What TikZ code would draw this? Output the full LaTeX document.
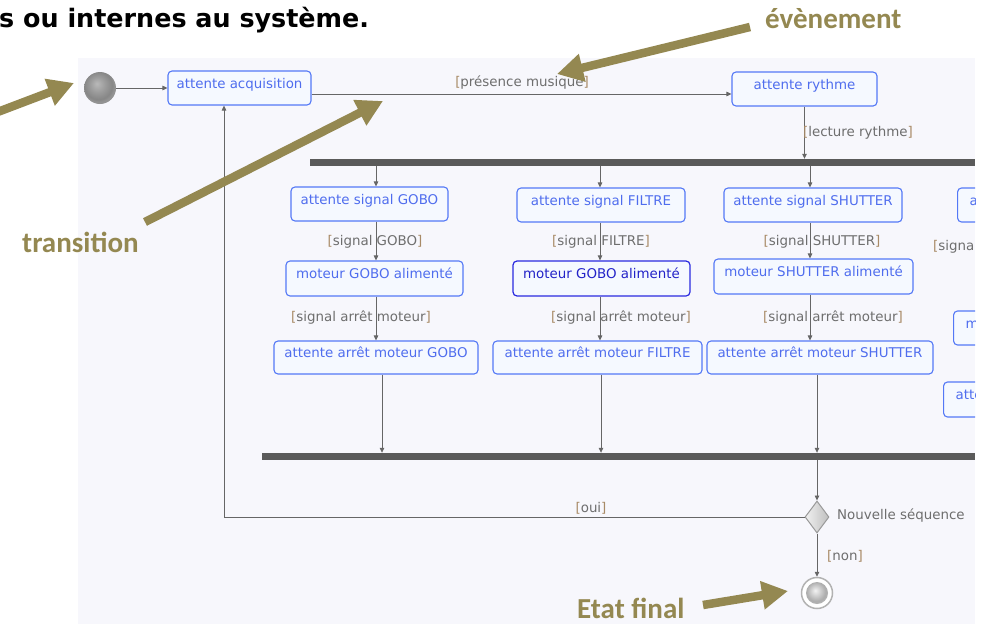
\documentclass[tikz,border=0pt]{standalone}
\usepackage{fontspec}
\setmainfont{DejaVu Sans}
\newfontfamily\notefont{Carlito}
\usetikzlibrary{arrows.meta,shapes.geometric,calc}

\definecolor{panel}{HTML}{F7F7FC}
\definecolor{boxfill}{HTML}{F5F9FF}
\definecolor{boxline}{HTML}{5478F6}
\definecolor{boxtext}{HTML}{4F6DEE}
\definecolor{selline}{HTML}{2A2AE0}
\definecolor{seltext}{HTML}{2323C8}
\definecolor{wire}{HTML}{666666}
\definecolor{barcol}{HTML}{5A5A5A}
\definecolor{lbltext}{HTML}{6E6E6E}
\definecolor{brk}{HTML}{A88A66}
\definecolor{olive}{HTML}{948851}

\newcommand\guard[1]{\textcolor{brk}{[}#1\textcolor{brk}{]}}

\pgfdeclareradialshading{startball}{\pgfpoint{-5bp}{7bp}}{%
  color(0bp)=(gray!55); color(12bp)=(gray!78); color(22bp)=(gray!95); color(25bp)=(gray!85); color(50bp)=(gray!85)}
\pgfdeclareradialshading{endball}{\pgfpoint{-4bp}{6bp}}{%
  color(0bp)=(gray!10); color(12bp)=(gray!40); color(22bp)=(gray!65); color(25bp)=(gray!60); color(50bp)=(gray!60)}

\tikzset{
  state/.style={draw=boxline, fill=boxfill, rounded corners=4pt, line width=1.1pt,
    minimum height=34pt, text=boxtext, font=\fontsize{13.4}{15}\selectfont,
    text height=0pt, text depth=0pt, inner sep=0pt},
  sel/.style={draw=selline, text=seltext, line width=1.2pt},
  cutbox/.style={state, anchor=west, minimum width=180pt, text width=156pt, align=left},
  wire/.style={draw=wire, line width=0.85pt},
  arr/.style={wire, -{Triangle[length=5pt,width=4.5pt]}},
  lbl/.style={text=lbltext, font=\fontsize{13.4}{15}\selectfont, inner sep=0pt},
  syncbar/.style={fill=barcol, minimum height=7pt, inner sep=0pt},
  note/.style={text=olive, font=\notefont\bfseries\fontsize{29}{32}\selectfont, inner sep=0pt},
  pointer/.style={draw=olive, line width=8.5pt, -{Triangle[length=26pt,width=27pt]}},
}

\begin{document}
\begin{tikzpicture}[x=1pt, y=-1pt]
\useasboundingbox (0,0) rectangle (987,624);
\fill[white] (0,0) rectangle (987,624);

% heading fragment
\node[anchor=base west, inner sep=0pt, font=\bfseries\fontsize{25.4}{28}\selectfont] (head) at (-1,27)
  {s ou internes au système.};

\begin{scope}
\clip (78,58) rectangle (975,624);
\fill[panel] (78,58) rectangle (975,624);

% column guides
\coordinate (k1) at (376,0);
\coordinate (k2) at (600,0);
\coordinate (k3) at (810,0);
\coordinate (j1) at (382,0);
\coordinate (j2) at (601,0);
\coordinate (j3) at (817,0);
\coordinate (ret) at (224,0);

% initial state
\node[circle, minimum size=32pt, inner sep=0pt, shading=startball] (init) at (100,88) {};

% states
\node[state, minimum width=143pt] (acq) at (239.5,88) {attente acquisition};
\node[state, minimum width=145pt] (ryt) at (804.5,89) {attente rythme};

\node[state, minimum width=157pt] (s1) at (369.5,204) {attente signal GOBO};
\node[state, minimum width=168pt] (s2) at (601,205) {attente signal FILTRE};
\node[state, minimum width=178pt] (s3) at (813,205) {attente signal SHUTTER};
\node[cutbox] (s4) at (957,205) {a};

\node[state, minimum width=177pt, minimum height=35pt] (m1) at (374.5,278.5) {moteur GOBO alimenté};
\node[state, sel, minimum width=177pt, minimum height=35pt] (m2) at (601.5,278.5) {moteur GOBO alimenté};
\node[state, minimum width=199pt, minimum height=35pt] (m3) at (813.5,276.5) {moteur SHUTTER alimenté};
\node[cutbox] (m4) at (953,328) {m};

\node[state, minimum width=204pt, minimum height=33pt] (e1) at (376,357.5) {attente arrêt moteur GOBO};
\node[state, minimum width=209pt, minimum height=33pt] (e2) at (597.5,357.5) {attente arrêt moteur FILTRE};
\node[state, minimum width=226pt, minimum height=33pt] (e3) at (820,357.5) {attente arrêt moteur SHUTTER};
\node[cutbox, minimum height=35pt] (e4) at (943,399.5) {atte};

% fork / join bars
\node[syncbar, minimum width=665pt] (fork) at (642.5,162.5) {};
\node[syncbar, minimum width=713pt] (join) at (618.5,456.5) {};

% decision and final state
\node[diamond, draw=gray!80, line width=1pt, left color=gray!12, right color=gray!50,
      minimum width=24pt, minimum height=32pt, aspect=0.74, inner sep=0pt] (dec) at (817,517) {};
\node[circle, draw=gray!60, line width=1.5pt, fill=white, minimum size=31pt, inner sep=0pt] (fin) at (817,593) {};
\node[circle, minimum size=22pt, inner sep=0pt, shading=endball] (finc) at (fin) {};

% transitions
\draw[arr] (init.east) -- (acq.west);
\draw[arr] ([yshift=-6pt]acq.east) -- ([yshift=-6pt]acq.east -| ryt.west);
\draw[arr] (ryt.south) -- (ryt.south |- fork.north);

\draw[arr] (fork.south -| k1) -- (s1.north -| k1);
\draw[arr] (fork.south -| k2) -- (s2.north -| k2);
\draw[arr] (fork.south -| k3) -- (s3.north -| k3);

\draw[arr] (s1.south -| k1) -- (m1.north -| k1);
\draw[arr] (s2.south -| k2) -- (m2.north -| k2);
\draw[arr] (s3.south -| k3) -- (m3.north -| k3);

\draw[arr] (m1.south -| k1) -- (e1.north -| k1);
\draw[arr] (m2.south -| k2) -- (e2.north -| k2);
\draw[arr] (m3.south -| k3) -- (e3.north -| k3);

\draw[arr] (e1.south -| j1) -- (join.north -| j1);
\draw[arr] (e2.south -| j2) -- (join.north -| j2);
\draw[arr] (e3.south -| j3) -- (join.north -| j3);

\draw[arr] (join.south -| dec) -- (dec.north);
\draw[arr] (dec.south) -- (fin.north);
\draw[arr] (dec.west) -- (dec.west -| ret) -- (acq.south -| ret);

% guards
\node[lbl] (g0) at (522,83) {\guard{présence musique}};
\node[lbl] (g1) at (858,133) {\guard{lecture rythme}};
\node[lbl] (g2) at (375,242) {\guard{signal GOBO}};
\node[lbl] (g3) at (601,242) {\guard{signal FILTRE}};
\node[lbl] (g4) at (822,242) {\guard{signal SHUTTER}};
\node[lbl, anchor=west] (g5) at (933,247) {\textcolor{brk}{[}signa};
\node[lbl] (g6) at (361,318) {\guard{signal arrêt moteur}};
\node[lbl] (g7) at (621,318) {\guard{signal arrêt moteur}};
\node[lbl] (g8) at (833,318) {\guard{signal arrêt moteur}};
\node[lbl] (g9) at (591,508) {\guard{oui}};
\node[lbl] (g10) at (845,556) {\guard{non}};
\node[lbl, anchor=west] (dname) at (837,516) {Nouvelle séquence};
\end{scope}

% annotations
\coordinate (p1a) at (-5,113);
\coordinate (p1b) at (74,83);
\coordinate (p2a) at (145,222);
\coordinate (p2b) at (383,101);
\coordinate (p3a) at (750,27);
\coordinate (p3b) at (557,74);
\coordinate (p4a) at (703,605);
\coordinate (p4b) at (788,591);
\draw[pointer] (p1a) -- (p1b);
\draw[pointer] (p2a) -- (p2b);
\draw[pointer] (p3a) -- (p3b);
\draw[pointer] (p4a) -- (p4b);

\node[note, anchor=base west] (n1) at (765,28) {évènement};
\node[note, anchor=base west] (n2) at (22,252) {transition};
\node[note, anchor=base west] (n3) at (577,618) {Etat final};
\end{tikzpicture}
\end{document}
